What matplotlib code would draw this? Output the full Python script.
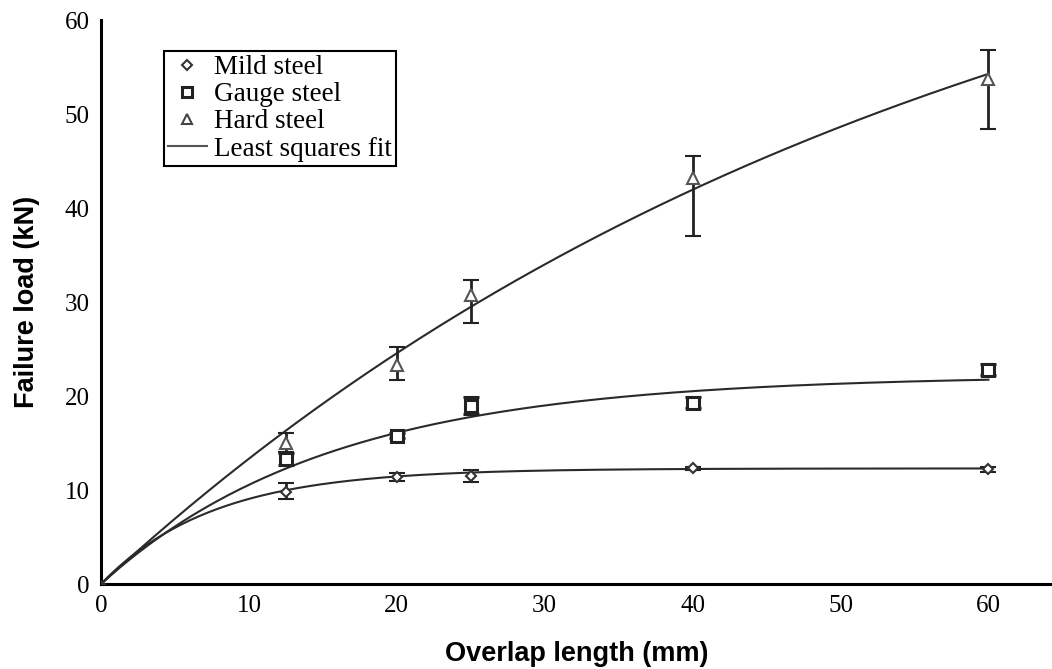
import numpy as np
import matplotlib
matplotlib.use("Agg")
import matplotlib.pyplot as plt

# overlap lengths (mm)
overlap = [12.5, 20, 25, 40, 60]

# failure loads (kN)
mild = [9.8, 11.4, 11.5, 12.3, 12.2]
mild_lo = [0.7, 0.4, 0.6, 0.2, 0.3]
mild_hi = [1.0, 0.4, 0.6, 0.2, 0.3]

gauge = [13.3, 15.8, 18.9, 19.3, 22.8]
gauge_lo = [0.6, 0.3, 0.8, 0.6, 0.6]
gauge_hi = [0.6, 0.3, 1.0, 0.6, 0.6]

hard = [15.0, 23.3, 30.7, 43.2, 53.7]
hard_lo = [1.0, 1.6, 2.9, 6.2, 5.3]
hard_hi = [1.1, 1.9, 1.6, 2.3, 3.1]

# least squares fit y = a * (1 - exp(-x / b)), parameters
fit_mild = (12.3, 7.5)
fit_gauge = (22.2, 15.5)
fit_hard = (84.2, 58.0)

plt.rcParams['font.family'] = ['Liberation Serif', 'DejaVu Serif']

fig = plt.figure(figsize=(10.52, 6.69), dpi=100)
ax = fig.add_axes([0.096, 0.127, 0.904, 0.843])

xs = np.linspace(0, 60, 300)
for a, b in (fit_mild, fit_gauge, fit_hard):
    ax.plot(xs, a * (1 - np.exp(-xs / b)), color='#2a2a2a', lw=1.5, zorder=2)

ebkw = dict(ls='none', ecolor='#222222', elinewidth=2, capsize=5.5, capthick=2.2,
            mfc='white', zorder=3)
ax.errorbar(overlap, mild, yerr=[mild_lo, mild_hi], marker='D', ms=5,
            mec='#333333', mew=1.5, **ebkw)
ax.errorbar(overlap, gauge, yerr=[gauge_lo, gauge_hi], marker='s', ms=8,
            mec='#222222', mew=2.2, **ebkw)
ax.errorbar(overlap, hard, yerr=[hard_lo, hard_hi], marker='^', ms=8,
            mec='#555555', mew=1.5, **ebkw)
ax.plot([0], [0], marker='D', ms=4, color='#333333', zorder=4)

# legend proxies
h1, = ax.plot([], [], ls='none', marker='D', ms=5, mfc='white', mec='#333333', mew=1.5)
h2, = ax.plot([], [], ls='none', marker='s', ms=7, mfc='white', mec='#222222', mew=2.2)
h3, = ax.plot([], [], ls='none', marker='^', ms=7, mfc='white', mec='#444444', mew=1.5)
h4, = ax.plot([], [], color='#555555', lw=1.5)
leg = ax.legend([h1, h2, h3, h4],
                ['Mild steel', 'Gauge steel', 'Hard steel', 'Least squares fit'],
                loc='upper left', bbox_to_anchor=(0.066, 0.945), fontsize=19.5,
                frameon=True, fancybox=False, edgecolor='black', framealpha=1,
                handlelength=1.45, handletextpad=0.25, borderpad=0.15,
                labelspacing=0.08, borderaxespad=0)
leg.get_frame().set_linewidth(1.5)

ax.set_xlim(0, 64.3)
ax.set_ylim(0, 60)
ax.set_xticks([0, 10, 20, 30, 40, 50, 60])
ax.set_yticks([0, 10, 20, 30, 40, 50, 60])
ax.tick_params(length=0, labelsize=18, pad=8)
for s in ('top', 'right'):
    ax.spines[s].set_visible(False)
for s in ('left', 'bottom'):
    ax.spines[s].set_linewidth(2.2)

ax.set_xlabel('Overlap length (mm)', family='Liberation Sans', weight='bold',
              fontsize=19.5, labelpad=17)
ax.set_ylabel('Failure load (kN)', family='Liberation Sans', weight='bold',
              fontsize=19.5, labelpad=18)

fig.savefig('out.png', dpi=100)
